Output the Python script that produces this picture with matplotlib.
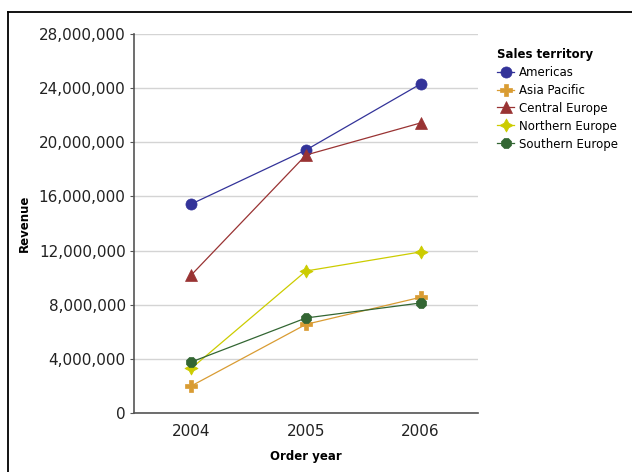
import matplotlib.pyplot as plt
from matplotlib.lines import Line2D
from matplotlib.ticker import FuncFormatter

years = ["2004", "2005", "2006"]
territories = ["Americas", "Asia Pacific", "Central Europe", "Northern Europe", "Southern Europe"]
americas = [15440000, 19430000, 24310000]
asia_pacific = [2000000, 6550000, 8550000]
central_europe = [10200000, 19060000, 21430000]
northern_europe = [3300000, 10490000, 11900000]
southern_europe = [3770000, 7020000, 8130000]
series = [americas, asia_pacific, central_europe, northern_europe, southern_europe]

colors = ["#333399", "#d99c33", "#993333", "#cccc00", "#336633"]
markers = ["o", "P", "^", (4, 1, 0), "8"]
sizes = [8, 8.5, 8.5, 9.5, 8.5]

fig = plt.figure(figsize=(6.32, 4.72), dpi=100)
ax = fig.add_axes([134 / 632, 1 - 413 / 472, 344 / 632, 379 / 472])

x = range(len(years))
for name, vals, c, m, s in zip(territories, series, colors, markers, sizes):
    ax.plot(x, vals, color=c, marker=m, markersize=s, linewidth=0.9,
            markeredgewidth=0.5, label=name, zorder=3)

ax.set_xlim(-0.5, 2.5)
ax.set_ylim(0, 28000000)
ax.set_yticks(range(0, 28000001, 4000000))
ax.yaxis.set_major_formatter(FuncFormatter(lambda v, p: f"{int(v):,}"))
ax.set_xticks(list(x))
ax.set_xticklabels(years)
ax.grid(axis="y", color="#d4d4d4", linewidth=1)
ax.set_axisbelow(True)

for side in ["top", "right"]:
    ax.spines[side].set_visible(False)
for side in ["left", "bottom"]:
    ax.spines[side].set_color("#555555")
    ax.spines[side].set_linewidth(1.2)

ax.tick_params(axis="y", labelsize=11, length=3, color="#555555", labelcolor="#222222", pad=3)
ax.tick_params(axis="x", labelsize=11, length=0, labelcolor="#222222", pad=8)

ax.set_xlabel("Order year", fontsize=8.5, fontweight="bold", labelpad=8)
ax.set_ylabel("Revenue", fontsize=8.5, fontweight="bold", labelpad=6)

leg = fig.legend(loc="upper left", bbox_to_anchor=(492 / 632, 1 - 43 / 472),
                 frameon=False, title="Sales territory", fontsize=8.5,
                 handlelength=1.5, handletextpad=0.4, labelspacing=0.42,
                 borderaxespad=0)
leg.get_title().set_fontweight("bold")
leg.get_title().set_fontsize(8.5)
leg._legend_box.align = "left"

# outer frame lines
fig.add_artist(Line2D([8 / 632, 8 / 632], [0, 1 - 12 / 472], color="black", linewidth=1.3))
fig.add_artist(Line2D([8 / 632, 1], [1 - 12 / 472, 1 - 12 / 472], color="black", linewidth=1.3))

fig.savefig("out.png", dpi=100)
